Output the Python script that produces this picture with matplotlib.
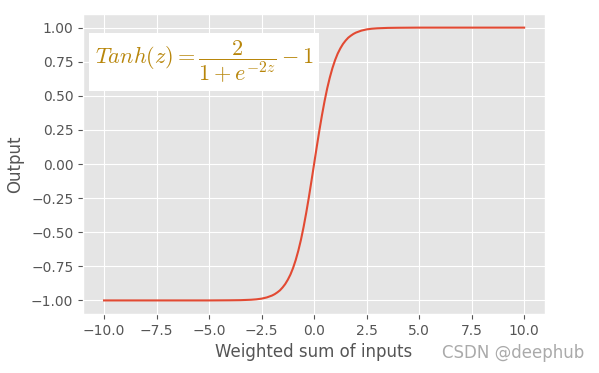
import numpy as np
import matplotlib.pyplot as plt

plt.style.use('ggplot')
plt.rcParams['mathtext.fontset'] = 'cm'

# points (weighted sum -> output)
x_vals = [-10.0, -8.0, -6.0, -5.0, -4.0, -3.5, -3.0, -2.75, -2.5, -2.25, -2.0,
          -1.875, -1.75, -1.625, -1.5, -1.375, -1.25, -1.125, -1.0, -0.875,
          -0.75, -0.625, -0.5, -0.375, -0.25, -0.125, 0.0, 0.125, 0.25, 0.375,
          0.5, 0.625, 0.75, 0.875, 1.0, 1.125, 1.25, 1.375, 1.5, 1.625, 1.75,
          1.875, 2.0, 2.25, 2.5, 2.75, 3.0, 3.5, 4.0, 5.0, 6.0, 8.0, 10.0]
y_vals = [-1.0, -1.0, -1.0, -1.0, -0.999, -0.998, -0.995, -0.992, -0.987, -0.978,
          -0.964, -0.954, -0.941, -0.926, -0.905, -0.880, -0.848, -0.810, -0.762,
          -0.704, -0.635, -0.555, -0.462, -0.358, -0.245, -0.124, 0.0, 0.124,
          0.245, 0.358, 0.462, 0.555, 0.635, 0.704, 0.762, 0.810, 0.848, 0.880,
          0.905, 0.926, 0.941, 0.954, 0.964, 0.978, 0.987, 0.992, 0.995, 0.998,
          0.999, 1.0, 1.0, 1.0, 1.0]

fig = plt.figure(figsize=(5.99, 3.73), dpi=100)
ax = fig.add_axes([0.1386, 0.158, 0.7715, 0.8045])
ax.plot(x_vals, y_vals)
ax.set_xlabel('Weighted sum of inputs')
ax.set_ylabel('Output', labelpad=5)
ax.set_xlim(-11, 11)
ax.set_ylim(-1.1, 1.1)
ax.set_yticks(np.arange(-1.0, 1.01, 0.25))

ax.text(-10.45, 0.75, r'$Tanh(z)=\dfrac{2}{1+e^{-2z}}-1$', fontsize=16,
        color='darkgoldenrod', va='center', ha='left',
        bbox=dict(facecolor='white', edgecolor='none', pad=4))

fig.text(0.975, 0.03, 'CSDN @deephub', ha='right', va='bottom',
         fontsize=12, color='#aaaaaa')

fig.savefig('out.png', dpi=100)
